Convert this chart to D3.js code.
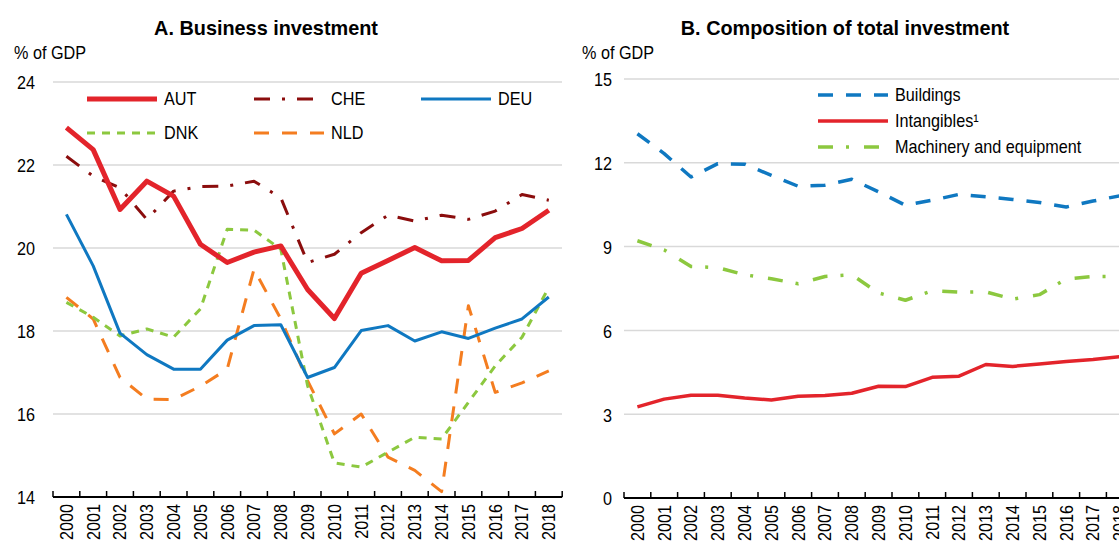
<!doctype html>
<html>
<head>
<meta charset="UTF-8">
<title>Investment</title>
<script src="https://d3js.org/d3.v7.min.js"></script>
<style>
  body { margin: 0; background: #fff; }
  svg { font-family: "Liberation Sans", Arial, sans-serif; }
</style>
</head>
<body>
<script>
var years = d3.range(2000, 2019).map(String);

// Panel A: business investment, % of GDP
var aut = [22.9, 22.37, 20.93, 21.61, 21.25, 20.09, 19.65, 19.9, 20.05, 19.0, 18.3, 19.39, 19.7, 20.01, 19.69, 19.7, 20.25, 20.47, 20.91];
var che = [22.21, 21.73, 21.45, 20.69, 21.37, 21.48, 21.49, 21.61, 21.21, 19.65, 19.85, 20.37, 20.79, 20.65, 20.79, 20.69, 20.89, 21.29, 21.15];
var deu = [20.81, 19.57, 17.95, 17.43, 17.08, 17.08, 17.78, 18.13, 18.15, 16.88, 17.12, 18.01, 18.13, 17.76, 17.98, 17.82, 18.07, 18.29, 18.82];
var dnk = [18.69, 18.33, 17.88, 18.05, 17.85, 18.53, 20.45, 20.43, 19.97, 16.68, 14.82, 14.72, 15.08, 15.44, 15.4, 16.28, 17.16, 17.85, 19.05];
var nld = [18.81, 18.29, 16.88, 16.36, 16.35, 16.67, 17.08, 19.49, 18.29, 16.8, 15.52, 16.0, 14.96, 14.64, 14.13, 18.61, 16.52, 16.75, 17.04];
var ticksA = [14, 16, 18, 20, 22, 24];

// Panel B: composition of total investment, % of GDP
var buildings = [13.04, 12.33, 11.49, 11.97, 11.95, 11.55, 11.16, 11.2, 11.41, 10.96, 10.48, 10.66, 10.87, 10.78, 10.69, 10.58, 10.42, 10.63, 10.82];
var intangibles = [3.26, 3.54, 3.68, 3.68, 3.58, 3.51, 3.64, 3.67, 3.75, 4.0, 3.99, 4.32, 4.36, 4.78, 4.71, 4.8, 4.89, 4.96, 5.06];
var machinery = [9.21, 8.88, 8.29, 8.25, 7.99, 7.85, 7.67, 7.93, 7.99, 7.34, 7.08, 7.42, 7.37, 7.38, 7.12, 7.28, 7.84, 7.93, 7.93];
var ticksB = [0, 3, 6, 9, 12, 15];

var red = "#e3242b", darkred = "#8b0d0d", blue = "#0f78c1", green = "#8cc83f", orange = "#f47d20";
var NARROW = 0.9;   // the original uses a condensed face

var svg = d3.select("body").append("svg").attr("width", 1119).attr("height", 542);

// text squeezed horizontally, placed at (x, y)
function txt(g, x, y, s, size, anchor, k) {
  return g.append("text")
    .attr("transform", "translate(" + x + "," + y + ") scale(" + (k || NARROW) + ",1)")
    .attr("font-size", size).attr("text-anchor", anchor || "start")
    .attr("dy", "0.35em").text(s);
}

function panel(opt) {
  var x = d3.scaleBand().domain(years).range([opt.left, opt.left + 26.8 * years.length]);
  var y = d3.scaleLinear().domain(opt.domain).range([opt.bottom, opt.top]);
  var g = svg.append("g");

  // gridlines
  g.selectAll(".grid").data(opt.ticks.slice(1)).enter().append("line")
    .attr("x1", opt.left).attr("x2", opt.gridEnd)
    .attr("y1", function(d){ return y(d); }).attr("y2", function(d){ return y(d); })
    .attr("stroke", "#d9d9d9").attr("stroke-width", 1.5);

  // y tick labels
  opt.ticks.forEach(function(d){ txt(g, opt.labelX, y(d) + 1, d, 18, "end"); });

  // x axis
  var xAxis = d3.axisBottom(x).tickSize(0).tickFormat(function(d){ return d; });
  var ax = g.append("g").attr("transform", "translate(0," + opt.bottom + ")").call(xAxis);
  ax.select(".domain").remove();
  ax.selectAll("text")
    .attr("font-size", 18).attr("font-family", null).attr("fill", "#000")
    .attr("transform", "rotate(-90) scale(" + NARROW + ",1)").attr("text-anchor", "end")
    .attr("x", -7 / NARROW).attr("y", 0).attr("dy", "0.35em");

  g.append("line").attr("x1", opt.left).attr("x2", opt.left + 26.8 * years.length)
    .attr("y1", opt.bottom).attr("y2", opt.bottom).attr("stroke", "#000").attr("stroke-width", 2);
  var edges = years.map(function(d){ return x(d); }).concat([opt.left + 26.8 * years.length]);
  g.selectAll(".tk").data(edges).enter().append("line")
    .attr("x1", function(d){ return d; }).attr("x2", function(d){ return d; })
    .attr("y1", opt.bottom).attr("y2", opt.bottom - 6)
    .attr("stroke", "#000").attr("stroke-width", 1.5);

  var line = d3.line()
    .x(function(d, i){ return x(years[i]) + x.bandwidth() / 2; })
    .y(function(d){ return y(d); });

  opt.series.forEach(function(s){
    g.append("path").datum(s.values)
      .attr("d", line).attr("fill", "none")
      .attr("stroke", s.color).attr("stroke-width", s.width)
      .attr("stroke-dasharray", s.dash).attr("stroke-linejoin", "round");
  });

  // titles
  txt(g, opt.titleX, 28, opt.title, 21, "middle", 0.945).attr("font-weight", "bold");
  txt(g, opt.unitX, 53, "% of GDP", 18, "start");

  // legend
  opt.legend.forEach(function(l){
    var s = l.s;
    g.append("line").attr("x1", l.x).attr("x2", l.x + 70).attr("y1", l.y).attr("y2", l.y)
      .attr("stroke", s.color).attr("stroke-width", s.width).attr("stroke-dasharray", s.dash);
    txt(g, l.x + 77, l.y, s.name, 18, "start");
  });
}

var sAUT = {name: "AUT", values: aut, color: red, width: 5, dash: null};
var sCHE = {name: "CHE", values: che, color: darkred, width: 3, dash: "16,12,3,12"};
var sDEU = {name: "DEU", values: deu, color: blue, width: 3, dash: null};
var sDNK = {name: "DNK", values: dnk, color: green, width: 3, dash: "8,7"};
var sNLD = {name: "NLD", values: nld, color: orange, width: 3, dash: "15,13"};

panel({
  left: 53, top: 82, bottom: 497, domain: [14, 24], ticks: ticksA, gridEnd: 562,
  labelX: 35, titleX: 266, unitX: 14, title: "A. Business investment",
  series: [sNLD, sDNK, sDEU, sCHE, sAUT],
  legend: [
    {s: sAUT, x: 87, y: 99}, {s: sCHE, x: 254, y: 99}, {s: sDEU, x: 421, y: 99},
    {s: sDNK, x: 87, y: 133}, {s: sNLD, x: 254, y: 133}
  ]
});

var sBld = {name: "Buildings", values: buildings, color: blue, width: 3.5, dash: "15,13"};
var sInt = {name: "Intangibles\u00b9", values: intangibles, color: red, width: 3.5, dash: null};
var sMac = {name: "Machinery and equipment", values: machinery, color: green, width: 3.5, dash: "15,13,3,15"};

panel({
  left: 624, top: 79, bottom: 498, domain: [0, 15], ticks: ticksB, gridEnd: 1119,
  labelX: 612, titleX: 845, unitX: 582, title: "B. Composition of total investment",
  series: [sMac, sBld, sInt],
  legend: [
    {s: sBld, x: 818, y: 95}, {s: sInt, x: 818, y: 121}, {s: sMac, x: 818, y: 147}
  ]
});
</script>
</body>
</html>
